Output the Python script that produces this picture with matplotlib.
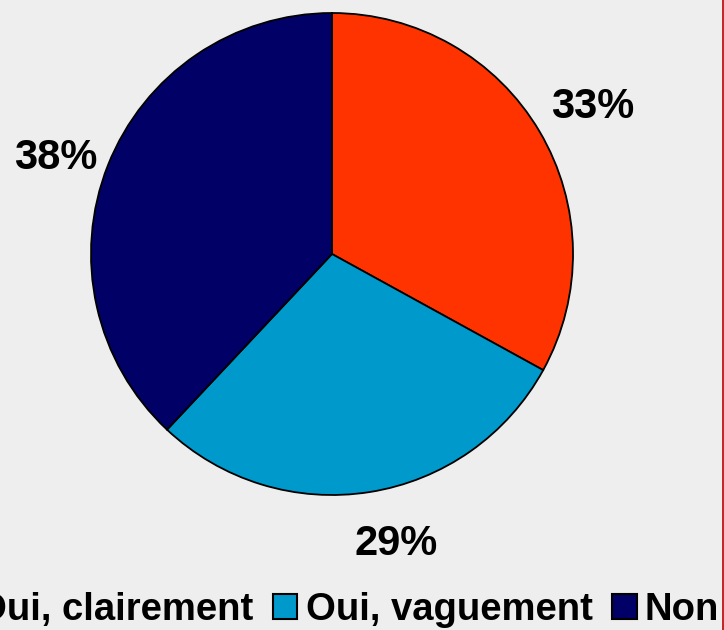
import matplotlib.pyplot as plt
from matplotlib.lines import Line2D
from matplotlib.font_manager import FontProperties
from matplotlib.transforms import offset_copy

# data
labels = ['Oui, clairement', 'Oui, vaguement', 'Non']
values = [33, 29, 38]
colors = ['#FF3300', '#0099CC', '#000066']

plt.rcParams['font.family'] = ['Liberation Sans', 'DejaVu Sans']
plt.rcParams['font.weight'] = 'bold'

fig = plt.figure(figsize=(7.24, 6.30), dpi=100, facecolor='#EEEEEE')
W, H = 724, 630
cx, cy, r = 332, 254, 241
ax = fig.add_axes([(cx - r) / W, (H - cy - r) / H, 2 * r / W, 2 * r / H])
ax.set_facecolor('#EEEEEE')

wedges, texts, autotexts = ax.pie(
    values, colors=colors, startangle=90, counterclock=False,
    autopct='%d%%', pctdistance=1.22,
    wedgeprops=dict(edgecolor='black', linewidth=1.3),
    textprops=dict(fontsize=30, fontweight='bold', color='black'))
ax.set_xlim(-1, 1)
ax.set_ylim(-1, 1)
ax.set_aspect('equal')
ax.axis('off')

# nudge the percentage labels a little (pixels)
nudges = [(8, -3), (18, 0), (-3, -12)]
for t, (dx, dy) in zip(autotexts, nudges):
    t.set_transform(offset_copy(ax.transData, fig=fig, x=dx, y=dy, units='dots'))

legend_font = FontProperties(family='Liberation Sans', weight='bold', size=27.5)
leg = fig.legend(wedges, labels, loc='center', bbox_to_anchor=(cx / W, 20 / H),
                 ncol=3, frameon=False, prop=legend_font, handlelength=0.63,
                 handleheight=0.63, handletextpad=0.22, columnspacing=0.52,
                 borderpad=0, borderaxespad=0)
for h in leg.legend_handles:
    h.set_linewidth(1.5)

# thin border on the right
fig.add_artist(Line2D([0.9986, 0.9986], [0, 1], color='#C00000',
                      linewidth=1.2, transform=fig.transFigure))

fig.savefig('out.png', dpi=100, facecolor=fig.get_facecolor())
